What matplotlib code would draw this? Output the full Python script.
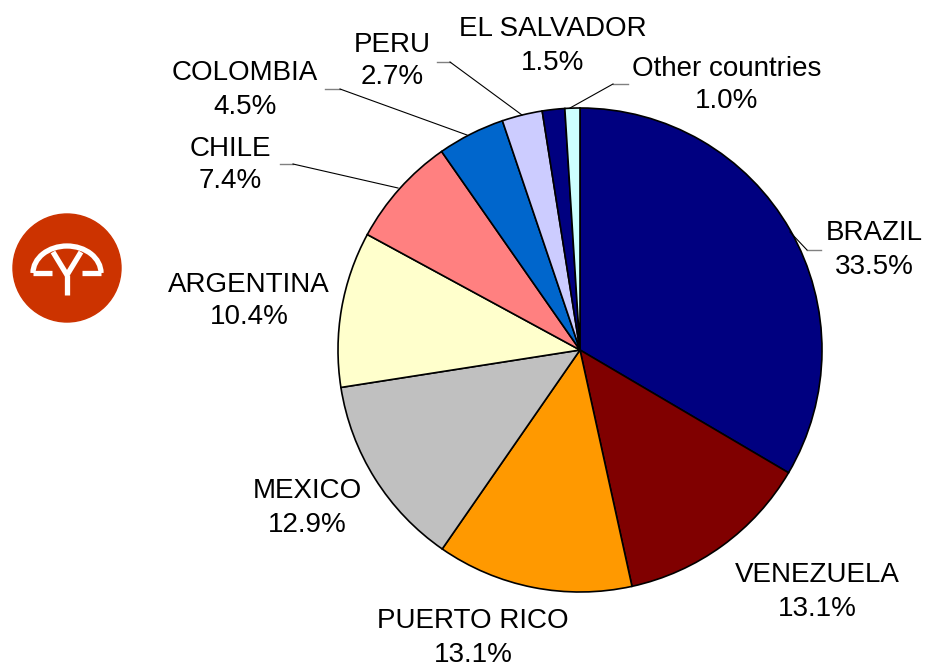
import matplotlib
matplotlib.use("Agg")
import matplotlib.pyplot as plt
from matplotlib.patches import Circle, Arc
import numpy as np

countries = ["BRAZIL", "VENEZUELA", "PUERTO RICO", "MEXICO", "ARGENTINA",
             "CHILE", "COLOMBIA", "PERU", "EL SALVADOR", "Other countries"]
shares = [33.5, 13.1, 13.1, 12.9, 10.4, 7.4, 4.5, 2.7, 1.5, 1.0]
colors = ["#000080", "#800000", "#FF9900", "#C0C0C0", "#FFFFCC",
          "#FF8080", "#0066CC", "#CCCCFF", "#000080", "#CCFFFF"]

W, H = 925, 669
fig = plt.figure(figsize=(W / 100, H / 100), dpi=100)
ax = fig.add_axes([0, 0, 1, 1])

def Y(yp):
    return H - yp

cx, cy, r = 580, 350, 242
ax.pie(shares, colors=colors, startangle=90, counterclock=False,
       center=(cx, Y(cy)), radius=r,
       wedgeprops=dict(edgecolor="black", linewidth=1.2))
ax.set_xlim(0, W)
ax.set_ylim(0, H)
ax.set_aspect("equal")
ax.axis("off")

plt.rcParams["font.family"] = ["Liberation Sans", "DejaVu Sans"]

# label centers (pixel coords of midpoint between the two lines)
label_pos = {
    "BRAZIL": (874, 250),
    "VENEZUELA": (817, 592),
    "PUERTO RICO": (473, 638),
    "MEXICO": (307, 508),
    "ARGENTINA": (249, 301),
    "CHILE": (230, 165),
    "COLOMBIA": (245, 90),
    "PERU": (392, 61),
    "EL SALVADOR": (553, 46),
    "Other countries": (727, 85),
}
for name, val in zip(countries, shares):
    x, y = label_pos[name]
    ax.text(x, Y(y), f"{name}\n{val:.1f}%", ha="center", va="center",
            fontsize=20, linespacing=1.35, family=["Liberation Sans", "DejaVu Sans"])

# leader lines
leaders = [
    [(821, 250), (807, 250), (790, 232)],
    [(280, 164), (293, 164), (398, 188)],
    [(325, 89), (340, 89), (467, 135)],
    [(437, 62), (450, 62), (522, 115)],
    [(628, 84), (613, 84), (570, 108)],
]
for pts in leaders:
    (x0, y0), (x1, y1), (x2, y2) = pts
    ax.plot([x0, x1], [Y(y0), Y(y1)], color="#808080", lw=1.0)
    ax.plot([x1, x2], [Y(y1), Y(y2)], color="black", lw=0.8)

# logo
lx, ly = 67, 268
ax.add_patch(Circle((lx, Y(ly)), 54, color="#CC3300", zorder=3))
wc = dict(color="white", lw=3.8, solid_capstyle="butt", zorder=4)
ax.add_patch(Arc((lx, Y(273)), 68, 54, theta1=0, theta2=180, edgecolor="white", lw=3.8, zorder=4))
ax.plot([lx - 34, lx - 15], [Y(273), Y(273)], **wc)
ax.plot([lx + 15, lx + 34], [Y(273), Y(273)], **wc)
ax.plot([lx - 14, lx, lx + 14], [Y(252), Y(275), Y(252)], **wc)
ax.plot([lx, lx], [Y(275), Y(295)], **wc)

fig.savefig("out.png", dpi=100)
